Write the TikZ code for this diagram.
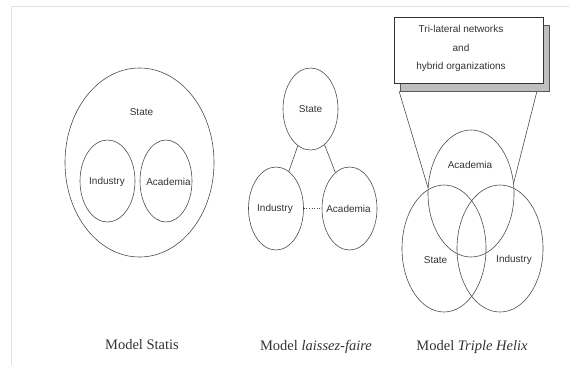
\documentclass[tikz,border=0pt]{standalone}
\usepackage{fontspec}
\setmainfont{Liberation Serif}
\setsansfont{Liberation Sans}
\usetikzlibrary{shapes.geometric, shadows, positioning}

\begin{document}
\begin{tikzpicture}[x=1pt, y=-1pt, line width=0.6pt,
  orb/.style={draw=black!70, ellipse, inner sep=0pt},
  tag/.style={font=\sffamily\fontsize{10}{12}\selectfont, text=black!80},
  caption/.style={font=\fontsize{14.5}{16}\selectfont, text=black!80}]
\useasboundingbox (0,0) rectangle (569,365);
\draw[black!12] (11,365) -- (11,6) -- (569,6);

% Model Statis
\node[orb, minimum width=149pt, minimum height=189pt] (sstate) at (139.5,162.5) {};
\node[tag] (sstatetxt) at (141.5,112) {State};
\node[orb, minimum width=55pt, minimum height=82pt] (sind) at (107.5,181) {};
\node[tag] (sindtxt) at (107,182) {Industry};
\node[orb, minimum width=52pt, minimum height=82pt] (sacad) at (166,181) {};
\node[tag] (sacadtxt) at (168.5,182) {Academia};

% Model laissez-faire
\node[orb, minimum width=55pt, minimum height=82pt] (lstate) at (310.5,109) {};
\node[tag] (lstatetxt) at (lstate) {State};
\node[orb, minimum width=55pt, minimum height=83pt] (lind) at (276,208.5) {};
\node[tag] (lindtxt) at (275,209) {Industry};
\node[orb, minimum width=55pt, minimum height=83pt] (lacad) at (349.5,208.5) {};
\node[tag] (lacadtxt) at (348.5,209) {Academia};
\draw[black!70] (lstate) -- (lind);
\draw[black!70] (lstate) -- (lacad);
\draw[black!70, dotted] (lind) -- (lacad);

% Model Triple Helix
\node[draw=black!80, fill=white, minimum width=149pt, minimum height=66pt,
  copy shadow={shadow xshift=6pt, shadow yshift=-8pt, fill=black!25, draw=black!65}] (tribox) at (468.5,50) {};
\node[tag, align=center] (triboxtxt) at (461,48.5) {Tri-lateral networks\\[6.5pt]and\\[6.5pt]hybrid organizations};
\node[orb, minimum width=86pt, minimum height=127pt] (tacad) at (471,193.5) {};
\node[orb, minimum width=84pt, minimum height=127pt] (tstate) at (444,248.5) {};
\node[orb, minimum width=86pt, minimum height=127pt] (tind) at (500,248.5) {};
\node[tag] (tacadtxt) at (470,165) {Academia};
\node[tag] (tstatetxt) at (435.5,260) {State};
\node[tag] (tindtxt) at (514,260) {Industry};
\coordinate (boxl) at (399,91);
\coordinate (boxr) at (537,91);
\draw[black!70] (boxl) -- (tacad.172);
\draw[black!70] (boxr) -- (tacad.14);

% captions
\node[caption] (capstatis) at (142,345) {Model Statis};
\node[caption] (caplaissez) at (316,347) {Model \textit{laissez-faire}};
\node[caption] (caphelix) at (472,347) {Model \textit{Triple Helix}};
\end{tikzpicture}
\end{document}
